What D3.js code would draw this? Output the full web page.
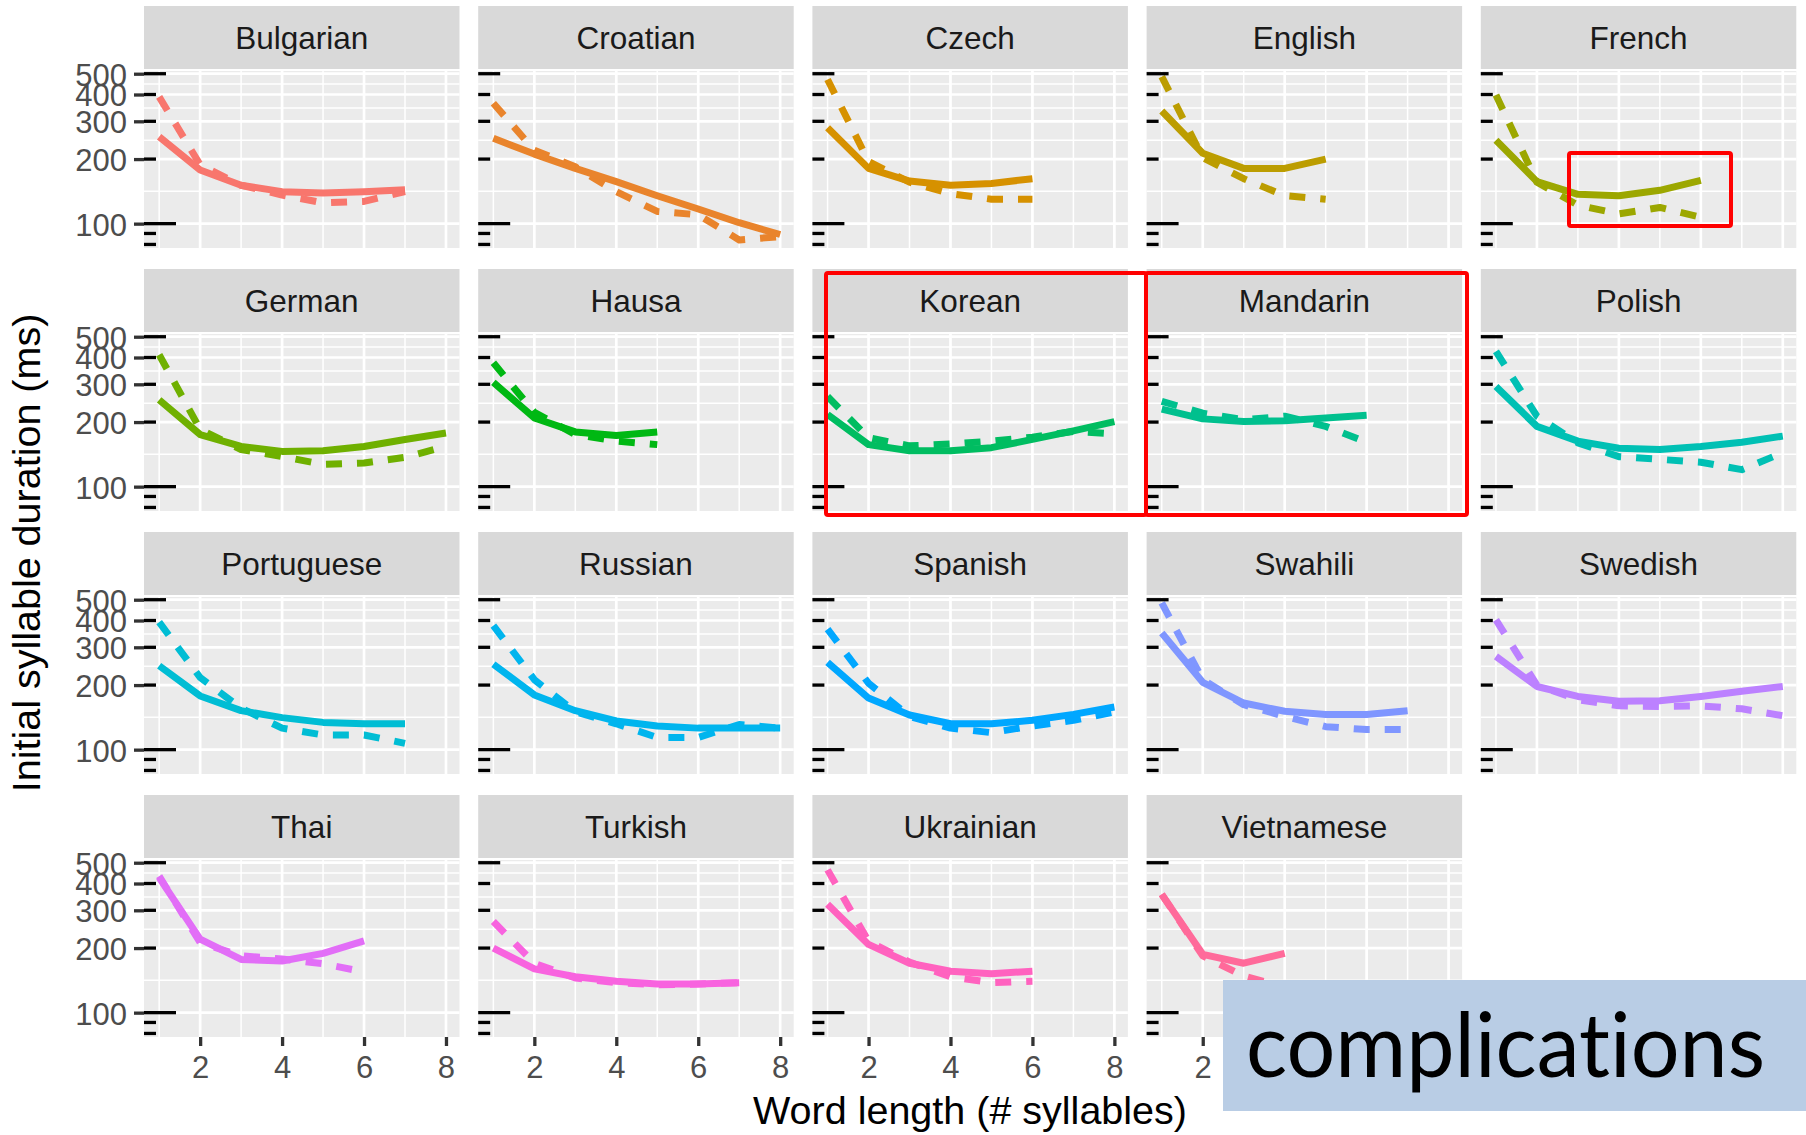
<!DOCTYPE html>
<html>
<head>
<meta charset="utf-8">
<title>Initial syllable duration by word length</title>
<script src="https://cdn.jsdelivr.net/npm/d3@7"></script>
<style>
  html, body { margin: 0; padding: 0; background: #ffffff; }
  svg { display: block; }
</style>
</head>
<body>
<script>
// ---- data -------------------------------------------------------------
const languages = [
  "Bulgarian", "Croatian", "Czech", "English", "French",
  "German", "Hausa", "Korean", "Mandarin", "Polish",
  "Portuguese", "Russian", "Spanish", "Swahili", "Swedish",
  "Thai", "Turkish", "Ukrainian", "Vietnamese"
];

// Mean initial-syllable duration (ms) for word lengths 1, 2, 3, ... (solid lines)
const solidDurations = [
  [254, 178, 151, 141, 139, 141, 144],        // Bulgarian
  [250, 211, 181, 157, 135, 117, 101, 89],    // Croatian
  [280, 181, 158, 151, 154, 162],             // Czech
  [335, 213, 181, 181, 200],                  // English
  [245, 157, 137, 135, 143, 159],             // French
  [254, 175, 154, 146, 147, 154, 166, 178],   // German
  [306, 209, 180, 173, 180],                  // Hausa
  [217, 157, 147, 147, 152, 166, 182, 201],   // Korean
  [230, 207, 201, 203, 209, 215],             // Mandarin
  [293, 191, 163, 151, 149, 154, 161, 172],   // Polish
  [246, 178, 152, 141, 134, 132, 132],        // Portuguese
  [250, 180, 152, 136, 129, 126, 126, 126],   // Russian
  [255, 174, 145, 132, 132, 137, 146, 158],   // Spanish
  [350, 206, 165, 151, 146, 146, 152],        // Swahili
  [272, 197, 177, 168, 169, 177, 187, 197],   // Swedish
  [426, 220, 177, 174, 189, 216],             // Thai
  [200, 160, 147, 140, 136, 136, 138],        // Turkish
  [320, 208, 170, 156, 152, 156],             // Ukrainian
  [356, 187, 170, 189]                        // Vietnamese
];

// Same measure, second series (dashed lines)
const dashedDurations = [
  [390, 188, 151, 136, 125, 127, 141],        // Bulgarian
  [364, 220, 184, 141, 114, 110, 84, 87],     // Croatian
  [470, 195, 156, 138, 130, 130],             // Czech
  [485, 203, 162, 135, 130],                  // English
  [398, 156, 122, 111, 119, 107],             // French
  [412, 185, 149, 138, 127, 129, 137, 154],   // German
  [378, 222, 175, 163, 157],                  // Hausa
  [263, 169, 155, 158, 163, 170, 181, 176],   // Korean
  [250, 220, 205, 213, 191, 161],             // Mandarin
  [427, 213, 160, 138, 134, 130, 120, 144],   // Polish
  [393, 217, 156, 126, 117, 117, 107],        // Portuguese
  [379, 212, 150, 132, 114, 114, 131, 126],   // Russian
  [365, 204, 143, 126, 120, 129, 137, 150],   // Spanish
  [483, 212, 162, 143, 128, 124, 124],        // Swahili
  [403, 200, 171, 160, 159, 160, 155, 144],   // Swedish
  [433, 212, 184, 178, 169, 155],             // Thai
  [266, 170, 145, 138, 135, 136, 138],        // Turkish
  [463, 215, 172, 147, 138, 140],             // Ukrainian
  [356, 184, 148, 132]                        // Vietnamese
];

const wordLengthTicks = [2, 4, 6, 8];
const durationTicks = [100, 200, 300, 400, 500];
const logTickValues = [80, 90, 100, 200, 300, 400, 500];

// ---- layout -----------------------------------------------------------
const W = 1806, H = 1135;
const nCols = 5;
const panelLeft0 = 144, colPitch = 334.2, panelW = 315.5;
const stripTop0 = 6, rowPitch = 263, stripH = 63, stripGap = 2, panelH = 177;
const captionBox = { x: 1223, y: 980, w: W - 1223, h: 131 };

const FONT = "'Liberation Sans', Arial, Helvetica, sans-serif";

// ggplot-style hue palette: hcl(h, c = 100, l = 65) in polar CIE-Luv
function hclLuv(h, c, l) {
  const hr = h * Math.PI / 180;
  const U = c * Math.cos(hr), V = c * Math.sin(hr);
  const Xn = 95.047, Yn = 100.0, Zn = 108.883;
  const den = Xn + 15 * Yn + 3 * Zn;
  const un = 4 * Xn / den, vn = 9 * Yn / den;
  const Y = l > 7.999592 ? Yn * Math.pow((l + 16) / 116, 3) : Yn * l / 903.3;
  const u = U / (13 * l) + un, v = V / (13 * l) + vn;
  const X = 9 * Y * u / (4 * v);
  const Z = Y * (12 - 3 * u - 20 * v) / (4 * v);
  const x = X / 100, y = Y / 100, z = Z / 100;
  const lin = [
     3.240479 * x - 1.537150 * y - 0.498535 * z,
    -0.969256 * x + 1.875992 * y + 0.041556 * z,
     0.055648 * x - 0.204043 * y + 1.057311 * z
  ];
  const ch = lin.map(t => {
    const g = t <= 0.0031308 ? 12.92 * t : 1.055 * Math.pow(t, 1 / 2.4) - 0.055;
    return Math.round(255 * Math.max(0, Math.min(1, g)));
  });
  return d3.rgb(ch[0], ch[1], ch[2]).formatHex();
}
const hueStep = 360 / languages.length;
const colour = d3.scaleOrdinal()
  .domain(languages)
  .range(languages.map((_, i) => hclLuv(15 + i * hueStep, 100, 65)));

// scales shared by every facet
const x = d3.scaleLinear().domain([0.63, 8.33]).range([0, panelW]);
const y = d3.scaleLog().domain([77.0, 514.8]).range([panelH, 0]);

// minor grid breaks: midpoints between majors (geometric for the log axis)
const xMinor = [1, 3, 5, 7];
const yMinor = d3.pairs(durationTicks).map(([a, b]) => Math.sqrt(a * b));

const line = d3.line()
  .x(d => x(d.len))
  .y(d => y(d.ms));

const asPoints = arr => arr.map((ms, i) => ({ len: i + 1, ms }));

const svg = d3.select("body").append("svg")
  .attr("width", W).attr("height", H)
  .attr("viewBox", `0 0 ${W} ${H}`)
  .style("font-family", FONT);

languages.forEach((lang, i) => {
  const col = i % nCols, row = Math.floor(i / nCols);
  const px = panelLeft0 + col * colPitch;
  const stripTop = stripTop0 + row * rowPitch;
  const pTop = stripTop + stripH + stripGap;
  const c = colour(lang);

  // facet strip
  svg.append("rect")
    .attr("x", px).attr("y", stripTop)
    .attr("width", panelW).attr("height", stripH)
    .attr("fill", "#D9D9D9");
  svg.append("text")
    .attr("x", px + panelW / 2).attr("y", stripTop + stripH / 2 + 11.3)
    .attr("text-anchor", "middle")
    .attr("font-size", 31.5)
    .attr("fill", "#1A1A1A")
    .text(lang);

  const g = svg.append("g").attr("transform", `translate(${px},${pTop})`);

  // panel background and grid
  g.append("rect").attr("width", panelW).attr("height", panelH).attr("fill", "#EBEBEB");

  g.selectAll(".ymin").data(yMinor).join("line")
    .attr("x1", 0).attr("x2", panelW)
    .attr("y1", d => y(d)).attr("y2", d => y(d))
    .attr("stroke", "#fff").attr("stroke-width", 1.5);
  g.selectAll(".xmin").data(xMinor).join("line")
    .attr("y1", 0).attr("y2", panelH)
    .attr("x1", d => x(d)).attr("x2", d => x(d))
    .attr("stroke", "#fff").attr("stroke-width", 1.5);
  g.selectAll(".ymaj").data(durationTicks).join("line")
    .attr("x1", 0).attr("x2", panelW)
    .attr("y1", d => y(d)).attr("y2", d => y(d))
    .attr("stroke", "#fff").attr("stroke-width", 2.7);
  g.selectAll(".xmaj").data(wordLengthTicks).join("line")
    .attr("y1", 0).attr("y2", panelH)
    .attr("x1", d => x(d)).attr("x2", d => x(d))
    .attr("stroke", "#fff").attr("stroke-width", 2.7);

  // the two series
  const clipId = `clip-${i}`;
  g.append("clipPath").attr("id", clipId)
    .append("rect").attr("width", panelW).attr("height", panelH);
  const lines = g.append("g").attr("clip-path", `url(#${clipId})`);
  lines.append("path")
    .attr("d", line(asPoints(dashedDurations[i])))
    .attr("fill", "none").attr("stroke", c)
    .attr("stroke-width", 7)
    .attr("stroke-dasharray", "16 15")
    .attr("stroke-linejoin", "round");
  lines.append("path")
    .attr("d", line(asPoints(solidDurations[i])))
    .attr("fill", "none").attr("stroke", c)
    .attr("stroke-width", 7)
    .attr("stroke-linejoin", "round");

  // log ticks along the left edge: long at 100, mid at 500, short elsewhere
  g.selectAll(".logtick").data(logTickValues).join("line")
    .attr("x1", 0)
    .attr("x2", d => d === 100 ? 32 : d === 500 ? 22 : 12)
    .attr("y1", d => y(d)).attr("y2", d => y(d))
    .attr("stroke", "#000").attr("stroke-width", 3.3);

  // y axis on the first column
  if (col === 0) {
    const ay = g.append("g").call(
      d3.axisLeft(y).tickValues(durationTicks).tickFormat(d3.format("d"))
        .tickSize(10).tickPadding(7)
    );
    ay.select(".domain").remove();
    ay.selectAll(".tick line").attr("stroke", "#333333").attr("stroke-width", 3.3);
    ay.selectAll(".tick text")
      .attr("font-family", FONT).attr("font-size", 31)
      .attr("fill", "#4D4D4D").attr("dy", "0.37em");
  }

  // x axis where nothing sits below; ticks hidden behind the caption box are skipped
  if (i + nCols >= languages.length) {
    const visibleTicks = wordLengthTicks.filter(t => px + x(t) + 12 < captionBox.x || pTop + panelH > captionBox.y + captionBox.h);
    const ax = g.append("g").attr("transform", `translate(0,${panelH})`).call(
      d3.axisBottom(x).tickValues(visibleTicks).tickFormat(d3.format("d"))
        .tickSize(9).tickPadding(10)
    );
    ax.select(".domain").remove();
    ax.selectAll(".tick line").attr("stroke", "#333333").attr("stroke-width", 3.3);
    ax.selectAll(".tick text")
      .attr("font-family", FONT).attr("font-size", 31)
      .attr("fill", "#4D4D4D");
  }
});

// axis titles
svg.append("text")
  .attr("transform", "translate(40,553) rotate(-90)")
  .attr("text-anchor", "middle")
  .attr("font-size", 39.5).attr("fill", "#000")
  .text("Initial syllable duration (ms)");
svg.append("text")
  .attr("x", 970).attr("y", 1124)
  .attr("text-anchor", "middle")
  .attr("font-size", 39.5).attr("fill", "#000")
  .text("Word length (# syllables)");

// highlight frames
const frames = [
  { x: 1569, y: 153, w: 162, h: 73 },   // French, longer words
  { x: 826, y: 273, w: 320, h: 242 },   // Korean
  { x: 1146, y: 273, w: 321, h: 242 }   // Mandarin
];
svg.selectAll(".frame").data(frames).join("rect")
  .attr("x", d => d.x).attr("y", d => d.y)
  .attr("width", d => d.w).attr("height", d => d.h)
  .attr("rx", 2)
  .attr("fill", "none").attr("stroke", "#FF0000").attr("stroke-width", 4);

// caption box
svg.append("rect")
  .attr("x", captionBox.x).attr("y", captionBox.y)
  .attr("width", captionBox.w).attr("height", captionBox.h)
  .attr("fill", "#B9CDE5");
const cap = svg.append("text")
  .attr("x", 1246).attr("y", 1077)
  .attr("font-family", "Lato, 'Open Sans', 'Noto Sans', sans-serif")
  .attr("font-size", 89).attr("fill", "#000")
  .style("font-variant-ligatures", "none")
  .style("font-feature-settings", "'liga' 0, 'clig' 0")
  .text("complications");
const capLen = cap.node().getComputedTextLength();
if (capLen > 0) cap.attr("textLength", 519).attr("lengthAdjust", "spacingAndGlyphs");
</script>
</body>
</html>
